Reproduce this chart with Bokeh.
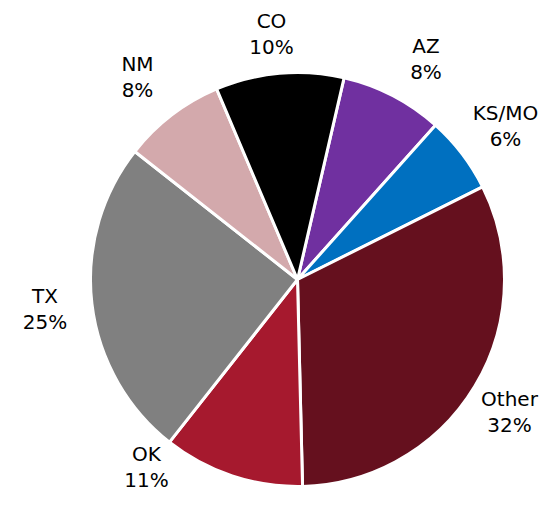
import numpy as np
from bokeh.plotting import figure
from bokeh.models import Range1d, ColumnDataSource
from bokeh.core.properties import value
from bokeh.embed import file_html
from bokeh.resources import INLINE

# ---- data (clockwise order, starting just right of 12 o'clock) ----
categories = ["AZ", "KS/MO", "Other", "OK", "TX", "NM", "CO"]
shares = [8, 6, 32, 11, 25, 8, 10]

# ---- styles / layout ----
colors = ["#7030A0", "#0070C0", "#65101E", "#A6192E", "#808080", "#D3A9AC", "#000000"]
first_angle_deg = 13.0          # clockwise from 12 o'clock
W, H = 541, 490
center_x, center_y = 297, -279
radius = 207
label_x = [425.5, 505, 509, 146, 44.5, 137, 271]
label_y = [-53, -120.7, -406.7, -461, -303.3, -71, -28]
line_gap = 26
baseline_fix = 8

vals = np.array(shares, dtype=float)
frac = vals / vals.sum()
cum = np.concatenate([[0.0], np.cumsum(frac)])
theta_start = np.deg2rad(first_angle_deg) + 2 * np.pi * cum[:-1]
theta_end = np.deg2rad(first_angle_deg) + 2 * np.pi * cum[1:]
start_angle = np.pi / 2 - theta_start
end_angle = np.pi / 2 - theta_end

src = ColumnDataSource(dict(
    x=[center_x] * len(categories), y=[center_y] * len(categories),
    start=start_angle, end=end_angle, color=colors, cat=categories,
))

p = figure(width=W, height=H, x_range=Range1d(0, W), y_range=Range1d(-H, 0),
           output_backend="svg", toolbar_location=None,
           x_axis_location=None, y_axis_location=None, min_border=0)
p.outline_line_color = None
p.grid.visible = False
p.background_fill_color = "white"
p.border_fill_color = "white"

p.wedge(x="x", y="y", radius=radius, start_angle="start", end_angle="end",
        direction="clock", fill_color="color", line_color="white", line_width=3, source=src)

lab = ColumnDataSource(dict(
    x=label_x, y=[v + baseline_fix for v in label_y], name=categories,
    y2=[v + baseline_fix - line_gap for v in label_y], pct=[f"{s}%" for s in shares],
))
common = dict(text_font=value("DejaVu Sans"), text_font_size="20px", text_align="center",
              text_baseline="alphabetic", text_color="#000000", source=lab)
p.text(x="x", y="y", text="name", **common)
p.text(x="x", y="y2", text="pct", **common)

open("out.html", "w").write(file_html(p, INLINE))
